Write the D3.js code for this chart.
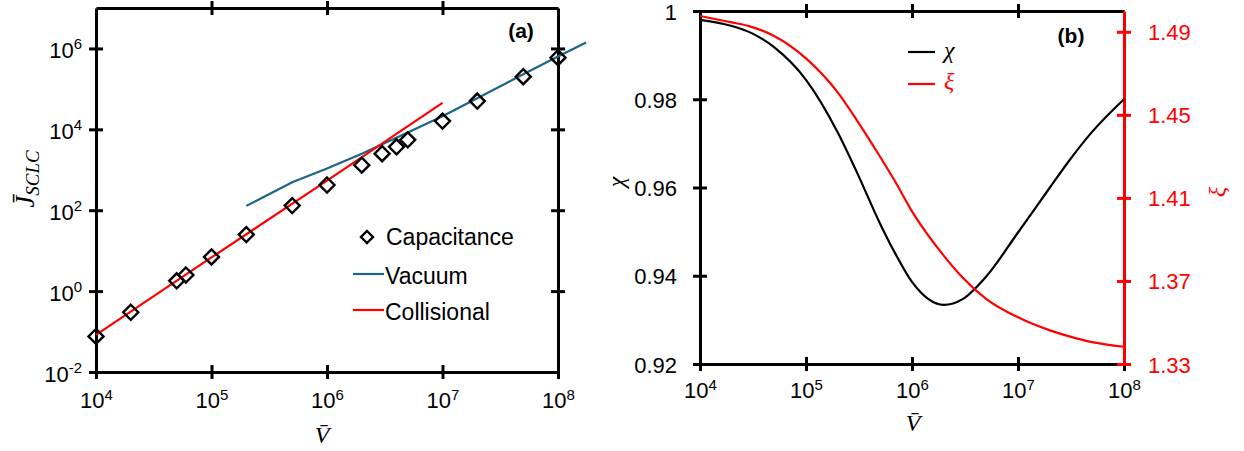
<!DOCTYPE html>
<html>
<head>
<meta charset="utf-8">
<script src="https://cdn.jsdelivr.net/npm/d3@7"></script>
<style>
body { margin: 0; background: #fff; }
svg text { font-family: "Liberation Sans", Arial, sans-serif; }
.math { font-family: "Liberation Serif", "Times New Roman", serif; font-style: italic; }
.legend { font-family: "Open Sans", sans-serif; }
</style>
</head>
<body>
<svg id="chart" width="1244" height="451"></svg>
<script>
"use strict";

// Panel (a): J_SCLC vs V
var capV = [1e4, 2e4, 5e4, 6e4, 1e5, 2e5, 5e5, 1e6, 2e6, 3e6, 4e6, 5e6, 1e7, 2e7, 5e7, 1e8];
var capJ = [0.076, 0.30, 1.8, 2.5, 7, 25, 130, 420, 1300, 2500, 3700, 5500, 16000, 50000, 2e5, 5.9e5];

var vacV = [2e5, 5e5, 1e6, 2e6, 5e6, 1e7, 2e7, 5e7, 1e8, 1.75e8];
var vacJ = [128, 490, 1070, 2500, 8400, 21000, 59000, 2.3e5, 6.3e5, 1.4e6];

var colV = [1e4, 1e5, 1e6, 1e7];
var colJ = [0.083, 6.8, 540, 45000];

var xTicksA = [1e4, 1e5, 1e6, 1e7, 1e8];
var yTicksA = [1e-2, 1e0, 1e2, 1e4, 1e6];

// Panel (b): chi and xi vs V
var vB = [1e4, 2e4, 3e4, 5e4, 1e5, 2e5, 3e5, 5e5, 7e5, 1e6, 2e6, 3e6, 5e6, 1e7, 2e7, 3e7, 5e7, 1e8];
var chi = [0.9980, 0.9966, 0.9951, 0.9918, 0.9844, 0.9724, 0.9636, 0.9518, 0.9449, 0.9386,
	0.9334, 0.9347, 0.9398, 0.9498, 0.9600, 0.9659, 0.9726, 0.9800];
var xi = [1.4976, 1.4945, 1.4925, 1.4880, 1.4772, 1.4607, 1.4476, 1.4298, 1.4175, 1.4035,
	1.3821, 1.3717, 1.3614, 1.3525, 1.3462, 1.3434, 1.3405, 1.3383];

var chiTicks = [0.92, 0.94, 0.96, 0.98, 1];
var xiTicks = [1.33, 1.37, 1.41, 1.45, 1.49];

var vacColor = "#1d6586";
var red = "#ff0000";

var svg = d3.select("#chart");

// crossing ticks + thick axis lines
function styleAxis(g, color, vertical) {
	g.attr("font-size", 22).attr("font-family", null);
	g.select(".domain").attr("stroke", color).attr("stroke-width", 3);
	g.selectAll(".tick line")
		.attr("stroke", color)
		.attr("stroke-width", 3)
		.attr(vertical ? "x1" : "y1", -7)
		.attr(vertical ? "x2" : "y2", 7);
}

// "10^n" labels
function powLabels(g, x, y, anchor, supDy) {
	g.selectAll(".tick text").each(function(d) {
		var e = Math.round(Math.log10(d));
		var t = d3.select(this).text(null)
			.attr("x", x).attr("y", y).attr("dy", null)
			.attr("text-anchor", anchor).attr("fill", "#000");
		t.append("tspan").text("10");
		t.append("tspan").attr("dy", supDy).attr("font-size", 15).text(e < 0 ? "-" + (-e) : e);
	});
}

// ---------- Panel (a)
var xA = d3.scaleLog().domain([1e4, 1e8]).range([96, 558]);
var yA = d3.scaleLog().domain([1e-2, 1e7]).range([372, 8]);

var gA = svg.append("g");

var axB = gA.append("g").attr("transform", "translate(0,372)")
	.call(d3.axisBottom(xA).tickValues(xTicksA).tickSizeOuter(0));
styleAxis(axB, "#000", false);
powLabels(axB, 0, 36, "middle", -8);

var axT = gA.append("g").attr("transform", "translate(0,8)")
	.call(d3.axisTop(xA).tickValues([1e5, 1e6, 1e7]).tickSizeOuter(0).tickFormat(""));
styleAxis(axT, "#000", false);

var axL = gA.append("g").attr("transform", "translate(96,0)")
	.call(d3.axisLeft(yA).tickValues(yTicksA).tickSizeOuter(0));
styleAxis(axL, "#000", true);
powLabels(axL, -14, 9, "end", -9);

var axR = gA.append("g").attr("transform", "translate(558,0)")
	.call(d3.axisRight(yA).tickValues([1e0, 1e2, 1e4, 1e6]).tickSizeOuter(0).tickFormat(""));
styleAxis(axR, "#000", true);

var lineA = d3.line()
	.x(function(d) { return xA(d[0]); })
	.y(function(d) { return yA(d[1]); });

gA.append("path")
	.datum(d3.zip(vacV, vacJ))
	.attr("d", lineA)
	.attr("fill", "none")
	.attr("stroke", vacColor)
	.attr("stroke-width", 2.2);

gA.append("path")
	.datum(d3.zip(colV, colJ))
	.attr("d", lineA)
	.attr("fill", "none")
	.attr("stroke", red)
	.attr("stroke-width", 2.2);

var diamond = "M0,-7.5L7.5,0L0,7.5L-7.5,0Z";
gA.append("g")
	.selectAll("path")
	.data(d3.zip(capV, capJ))
	.enter()
	.append("path")
	.attr("d", diamond)
	.attr("transform", function(d) { return "translate(" + xA(d[0]) + "," + yA(d[1]) + ")"; })
	.attr("fill", "none")
	.attr("stroke", "#000")
	.attr("stroke-width", 2.4);

// legend (a)
var legA = gA.append("g").attr("class", "legend").attr("font-size", 23);
legA.append("path").attr("d", "M0,-6L6,0L0,6L-6,0Z")
	.attr("transform", "translate(367,237)")
	.attr("fill", "none").attr("stroke", "#000").attr("stroke-width", 2.4);
legA.append("text").attr("x", 386).attr("y", 245).text("Capacitance");
legA.append("line").attr("x1", 353).attr("x2", 384).attr("y1", 274).attr("y2", 274)
	.attr("stroke", vacColor).attr("stroke-width", 2.2);
legA.append("text").attr("x", 385).attr("y", 284).text("Vacuum");
legA.append("line").attr("x1", 353).attr("x2", 384).attr("y1", 310).attr("y2", 310)
	.attr("stroke", red).attr("stroke-width", 2.2);
legA.append("text").attr("x", 385).attr("y", 320).text("Collisional");

gA.append("text").attr("x", 521).attr("y", 38).attr("text-anchor", "middle")
	.attr("font-size", 21).attr("font-weight", "bold").text("(a)");

// axis titles (a)
gA.append("text").attr("class", "math").attr("x", 322).attr("y", 443)
	.attr("text-anchor", "middle").attr("font-size", 24).text("V\u0304");

var jl = gA.append("text").attr("class", "math")
	.attr("transform", "translate(34,179) rotate(-90)")
	.attr("text-anchor", "middle").attr("font-size", 27);
jl.append("tspan").text("J\u0304");
jl.append("tspan").attr("font-size", 19).attr("dy", 5).text("SCLC");

// ---------- Panel (b)
var xB = d3.scaleLog().domain([1e4, 1e8]).range([700, 1124]);
var yB = d3.scaleLinear().domain([0.92, 1]).range([364, 11]);
var yX = d3.scaleLinear().domain([1.33, 1.5]).range([364, 11]);

var gB = svg.append("g");

var bxB = gB.append("g").attr("transform", "translate(0,364)")
	.call(d3.axisBottom(xB).tickValues(xTicksA).tickSizeOuter(0));
styleAxis(bxB, "#000", false);
powLabels(bxB, 0, 34, "middle", -8);

var bxT = gB.append("g").attr("transform", "translate(0,11)")
	.call(d3.axisTop(xB).tickValues([1e5, 1e6, 1e7]).tickSizeOuter(0).tickFormat(""));
styleAxis(bxT, "#000", false);

var bxL = gB.append("g").attr("transform", "translate(700,0)")
	.call(d3.axisLeft(yB).tickValues(chiTicks).tickSizeOuter(0)
		.tickFormat(function(d) { return +d.toFixed(2); }));
styleAxis(bxL, "#000", true);
bxL.selectAll(".tick text").attr("x", -23).attr("dy", null).attr("y", 8).attr("fill", "#000");

var bxR = gB.append("g").attr("transform", "translate(1124,0)")
	.call(d3.axisRight(yX).tickValues(xiTicks).tickSizeOuter(0)
		.tickFormat(function(d) { return d.toFixed(2); }));
styleAxis(bxR, red, true);
bxR.selectAll(".tick text").attr("x", 24).attr("dy", null).attr("y", 8).attr("fill", red);

var lineChi = d3.line()
	.x(function(d) { return xB(d[0]); })
	.y(function(d) { return yB(d[1]); })
	.curve(d3.curveMonotoneX);
var lineXi = d3.line()
	.x(function(d) { return xB(d[0]); })
	.y(function(d) { return yX(d[1]); })
	.curve(d3.curveMonotoneX);

gB.append("path").datum(d3.zip(vB, chi)).attr("d", lineChi)
	.attr("fill", "none").attr("stroke", "#000").attr("stroke-width", 2.2);
gB.append("path").datum(d3.zip(vB, xi)).attr("d", lineXi)
	.attr("fill", "none").attr("stroke", red).attr("stroke-width", 2.2);

// legend (b)
gB.append("line").attr("x1", 908).attr("x2", 935).attr("y1", 52).attr("y2", 52)
	.attr("stroke", "#000").attr("stroke-width", 2.2);
gB.append("text").attr("class", "math").attr("x", 944).attr("y", 58)
	.attr("font-size", 24).text("\u03c7");
gB.append("line").attr("x1", 908).attr("x2", 935).attr("y1", 84).attr("y2", 84)
	.attr("stroke", red).attr("stroke-width", 2.2);
gB.append("text").attr("class", "math").attr("x", 944).attr("y", 89)
	.attr("font-size", 24).attr("fill", red).text("\u03be");

gB.append("text").attr("x", 1071).attr("y", 43).attr("text-anchor", "middle")
	.attr("font-size", 21).attr("font-weight", "bold").text("(b)");

// axis titles (b)
gB.append("text").attr("class", "math").attr("x", 913).attr("y", 431)
	.attr("text-anchor", "middle").attr("font-size", 24).text("V\u0304");
gB.append("text").attr("class", "math")
	.attr("transform", "translate(624,182) rotate(-90)")
	.attr("text-anchor", "middle").attr("font-size", 24).text("\u03c7");
gB.append("text").attr("class", "math").attr("fill", red)
	.attr("transform", "translate(1225,192) rotate(-90)")
	.attr("text-anchor", "middle").attr("font-size", 24).text("\u03be");
</script>
</body>
</html>
